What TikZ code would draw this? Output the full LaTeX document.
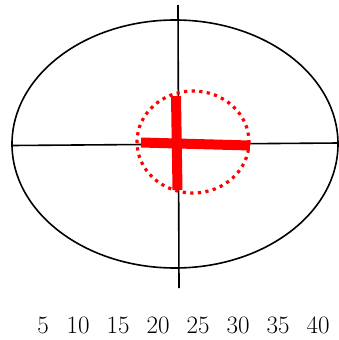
\documentclass[tikz,border=0pt]{standalone}
\usepackage{tikz}
\usetikzlibrary{positioning,calc}
\tikzset{
  axisline/.style={draw=black,line width=1.6pt},
  sightline/.style={draw=red,line width=10pt},
  dotring/.style={draw=red,line width=3.2pt,dash pattern=on 3.2pt off 4.4pt},
  scalelabel/.style={font=\fontsize{25}{28}\selectfont,inner sep=0pt,anchor=center}
}
\begin{document}
\begin{tikzpicture}[x=1pt,y=-1pt]
    \useasboundingbox (0,0) rectangle (339,340);
    % target outline
    \draw[axisline] (175,144) ellipse [x radius=163, y radius=124];
    \coordinate (top) at (178,5);
    \coordinate (bot) at (179,288);
    \coordinate (lft) at (12,145.5);
    \coordinate (rgt) at (339,143);
    \draw[axisline] (top)--(bot);
    \draw[axisline] (lft)--(rgt);
    % dotted ring and red cross
    \draw[dotring] (193,142) ellipse [x radius=56, y radius=51];
    \coordinate (vt) at (176,96);
    \coordinate (vb) at (177.5,190);
    \coordinate (hl) at (141,142.5);
    \coordinate (hr) at (250,145.5);
    \draw[sightline] (vt)--(vb);
    \draw[sightline] (hl)--(hr);
    % scale
    \node[scalelabel] (s5) at (43,325) {5};
    \foreach \v [count=\i] in {10,15,20,25,30,35,40}
      \node[scalelabel] (s\v) at (38+40*\i,325) {\v};
\end{tikzpicture}
\end{document}
